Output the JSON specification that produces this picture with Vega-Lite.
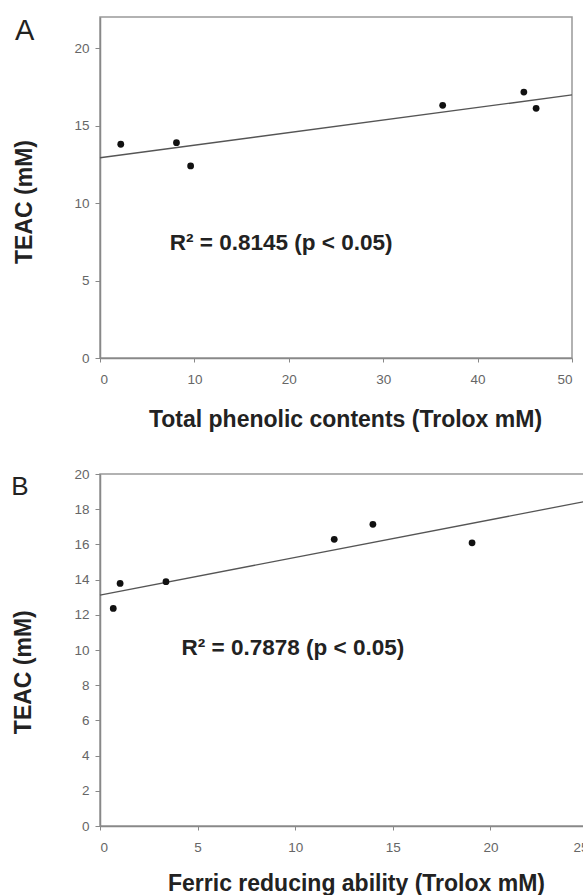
{
  "$schema": "https://vega.github.io/schema/vega-lite/v6.json",
  "autosize": {"type": "pad"},
  "padding": {"left": 10, "top": 16, "right": 0, "bottom": 0},
  "background": "white",
  "spacing": 33,
  "config": {
    "font": "Liberation Sans",
    "view": {"stroke": "#999", "strokeWidth": 1.5},
    "axis": {
      "grid": false,
      "domainColor": "#888",
      "domainWidth": 1.5,
      "tickColor": "#888",
      "tickWidth": 1,
      "labelColor": "#666",
      "labelFont": "Liberation Sans",
      "labelFontSize": 13.5,
      "labelOverlap": false,
      "titleFont": "Liberation Sans",
      "titleFontSize": 23,
      "titleFontWeight": "bold",
      "titleColor": "#222"
    },
    "axisX": {"tickSize": 4, "labelPadding": 10, "titleBaseline": "alphabetic"},
    "axisY": {"tickSize": 5, "labelPadding": 6, "titleBaseline": "alphabetic"}
  },
  "datasets": {
    "pointsA": [
      {"phenolic": 2.2, "teac": 13.79},
      {"phenolic": 8.1, "teac": 13.89},
      {"phenolic": 9.6, "teac": 12.39},
      {"phenolic": 36.3, "teac": 16.3},
      {"phenolic": 44.9, "teac": 17.16},
      {"phenolic": 46.2, "teac": 16.11}
    ],
    "fitA": [
      {"phenolic": 0, "teac": 12.92},
      {"phenolic": 50, "teac": 16.97}
    ],
    "pointsB": [
      {"frap": 0.68, "teac": 12.36},
      {"frap": 1.03, "teac": 13.78},
      {"frap": 3.38, "teac": 13.88},
      {"frap": 12.0, "teac": 16.29},
      {"frap": 13.98, "teac": 17.14},
      {"frap": 19.06, "teac": 16.09}
    ],
    "fitB": [
      {"frap": 0, "teac": 13.12},
      {"frap": 25, "teac": 18.47}
    ]
  },
  "vconcat": [
    {
      "width": 472,
      "height": 341,
      "layer": [
        {
          "data": {"name": "fitA"},
          "mark": {"type": "line", "color": "#555", "strokeWidth": 1.3},
          "encoding": {
            "x": {"field": "phenolic", "type": "quantitative", "scale": {"domain": [0, 50], "nice": false},
              "axis": {"values": [0, 10, 20, 30, 40, 50], "tickCount": 6, "labelOverlap": false, "title": "Total phenolic contents (Trolox mM)", "titleX": 245, "titleY": 68.5}},
            "y": {"field": "teac", "type": "quantitative", "scale": {"domain": [0, 22], "nice": false},
              "axis": {"values": [0, 5, 10, 15, 20], "tickCount": 5, "labelOverlap": false, "title": "TEAC (mM)", "titleX": -68.3, "titleY": 184.5}}
          }
        },
        {
          "data": {"name": "pointsA"},
          "mark": {"type": "circle", "color": "#111", "size": 46, "opacity": 1},
          "encoding": {
            "x": {"field": "phenolic", "type": "quantitative", "scale": {"domain": [0, 50], "nice": false},
              "axis": {"values": [0, 10, 20, 30, 40, 50], "tickCount": 6, "labelOverlap": false, "title": "Total phenolic contents (Trolox mM)", "titleX": 245, "titleY": 68.5}},
            "y": {"field": "teac", "type": "quantitative", "scale": {"domain": [0, 22], "nice": false},
              "axis": {"values": [0, 5, 10, 15, 20], "tickCount": 5, "labelOverlap": false, "title": "TEAC (mM)", "titleX": -68.3, "titleY": 184.5}}
          }
        },
        {
          "data": {"values": [{}]},
          "mark": {"type": "text", "align": "left", "baseline": "alphabetic", "fontSize": 22.5, "fontWeight": "bold", "color": "#222"},
          "encoding": {
            "x": {"datum": 7.4, "axis": {"values": [0, 10, 20, 30, 40, 50], "tickCount": 6, "labelOverlap": false, "title": "Total phenolic contents (Trolox mM)", "titleX": 245, "titleY": 68.5}},
            "y": {"datum": 7.0, "axis": {"values": [0, 5, 10, 15, 20], "tickCount": 5, "labelOverlap": false, "title": "TEAC (mM)", "titleX": -68.3, "titleY": 184.5}},
            "text": {"value": "R² = 0.8145 (p < 0.05)"}
          }
        },
        {
          "data": {"values": [{}]},
          "mark": {"type": "text", "align": "left", "baseline": "alphabetic", "fontSize": 29, "color": "#222"},
          "encoding": {
            "x": {"datum": -9.0, "axis": {"values": [0, 10, 20, 30, 40, 50], "tickCount": 6, "labelOverlap": false, "title": "Total phenolic contents (Trolox mM)", "titleX": 245, "titleY": 68.5}},
            "y": {"datum": 20.5, "axis": {"values": [0, 5, 10, 15, 20], "tickCount": 5, "labelOverlap": false, "title": "TEAC (mM)", "titleX": -68.3, "titleY": 184.5}},
            "text": {"value": "A"}
          }
        }
      ]
    },
    {
      "width": 488,
      "height": 352,
      "layer": [
        {
          "data": {"name": "fitB"},
          "mark": {"type": "line", "color": "#555", "strokeWidth": 1.3},
          "encoding": {
            "x": {"field": "frap", "type": "quantitative", "scale": {"domain": [0, 25], "nice": false},
              "axis": {"values": [0, 5, 10, 15, 20, 25], "tickCount": 6, "labelOverlap": false, "title": "Ferric reducing ability (Trolox mM)", "titleX": 256, "titleY": 64}},
            "y": {"field": "teac", "type": "quantitative", "scale": {"domain": [0, 20], "nice": false},
              "axis": {"values": [0, 2, 4, 6, 8, 10, 12, 14, 16, 18, 20], "tickCount": 11, "labelOverlap": false, "title": "TEAC (mM)", "titleX": -70, "titleY": 197.7}}
          }
        },
        {
          "data": {"name": "pointsB"},
          "mark": {"type": "circle", "color": "#111", "size": 46, "opacity": 1},
          "encoding": {
            "x": {"field": "frap", "type": "quantitative", "scale": {"domain": [0, 25], "nice": false},
              "axis": {"values": [0, 5, 10, 15, 20, 25], "tickCount": 6, "labelOverlap": false, "title": "Ferric reducing ability (Trolox mM)", "titleX": 256, "titleY": 64}},
            "y": {"field": "teac", "type": "quantitative", "scale": {"domain": [0, 20], "nice": false},
              "axis": {"values": [0, 2, 4, 6, 8, 10, 12, 14, 16, 18, 20], "tickCount": 11, "labelOverlap": false, "title": "TEAC (mM)", "titleX": -70, "titleY": 197.7}}
          }
        },
        {
          "data": {"values": [{}]},
          "mark": {"type": "text", "align": "left", "baseline": "alphabetic", "fontSize": 22.5, "fontWeight": "bold", "color": "#222"},
          "encoding": {
            "x": {"datum": 4.18, "axis": {"values": [0, 5, 10, 15, 20, 25], "tickCount": 6, "labelOverlap": false, "title": "Ferric reducing ability (Trolox mM)", "titleX": 256, "titleY": 64}},
            "y": {"datum": 9.7, "axis": {"values": [0, 2, 4, 6, 8, 10, 12, 14, 16, 18, 20], "tickCount": 11, "labelOverlap": false, "title": "TEAC (mM)", "titleX": -70, "titleY": 197.7}},
            "text": {"value": "R² = 0.7878 (p < 0.05)"}
          }
        },
        {
          "data": {"values": [{}]},
          "mark": {"type": "text", "align": "left", "baseline": "alphabetic", "fontSize": 26, "color": "#222"},
          "encoding": {
            "x": {"datum": -4.55, "axis": {"values": [0, 5, 10, 15, 20, 25], "tickCount": 6, "labelOverlap": false, "title": "Ferric reducing ability (Trolox mM)", "titleX": 256, "titleY": 64}},
            "y": {"datum": 18.8, "axis": {"values": [0, 2, 4, 6, 8, 10, 12, 14, 16, 18, 20], "tickCount": 11, "labelOverlap": false, "title": "TEAC (mM)", "titleX": -70, "titleY": 197.7}},
            "text": {"value": "B"}
          }
        }
      ]
    }
  ]
}
